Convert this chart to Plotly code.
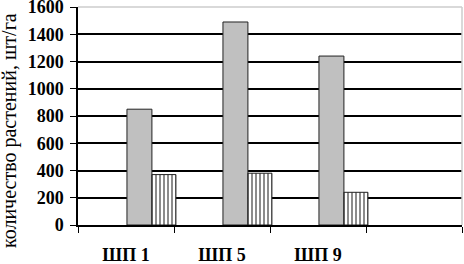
import plotly.graph_objects as go

categories = ["ШП 1", "ШП 5", "ШП 9"]
series_gray = [850, 1490, 1240]
series_hatch = [370, 380, 240]
y_ticks = [0, 200, 400, 600, 800, 1000, 1200, 1400, 1600]
y_title = "количество растений, шт/га"

x_idx = list(range(len(categories)))

fig = go.Figure()
fig.add_trace(go.Bar(
    x=x_idx, y=series_gray, offset=0.01, width=0.26,
    marker=dict(color="#c0c0c0", line=dict(color="#222222", width=1)),
    showlegend=False,
))
fig.add_trace(go.Bar(
    x=x_idx, y=series_hatch, offset=0.27, width=0.25,
    marker=dict(color="white", line=dict(color="#222222", width=1),
                pattern=dict(shape="|", size=4, solidity=0.45, fgcolor="black", bgcolor="white")),
    showlegend=False,
))

serif = "Liberation Serif, Times New Roman, serif"

fig.update_layout(
    width=464, height=264,
    margin=dict(l=78, r=2, t=7, b=39),
    paper_bgcolor="white", plot_bgcolor="white",
    barmode="overlay",
    xaxis=dict(
        range=[-0.5, 3.5], automargin=False,
        tickmode="array", tickvals=x_idx, ticktext=categories,
        ticks="", showgrid=False, zeroline=False,
        showline=True, linecolor="black", linewidth=1.5,
        tickfont=dict(family=serif, size=18, color="black", weight="bold"),
        ticklabelstandoff=13,
        minor=dict(tickmode="array", tickvals=[-0.5, 0.5, 1.5, 2.5, 3.5],
                   ticks="outside", ticklen=6, tickcolor="black", tickwidth=1, showgrid=False),
    ),
    yaxis=dict(
        range=[0, 1600], tickmode="array", tickvals=y_ticks, automargin=False,
        ticklabeloverflow="allow", ticklabelstandoff=3,
        showgrid=True, gridcolor="black", gridwidth=1.5,
        zeroline=False,
        showline=True, linecolor="black", linewidth=1.5,
        ticks="outside", ticklen=6, tickcolor="black",
        tickfont=dict(family=serif, size=18, color="black", weight="bold"),
    ),
)
fig.add_annotation(text=y_title, xref="paper", yref="paper",
                   x=-69 / 384, y=(225 - 131) / 218, xanchor="center", yanchor="middle",
                   textangle=-90, showarrow=False,
                   font=dict(family=serif, size=20, color="black"))
# light frame on top and right
fig.add_shape(type="line", xref="paper", yref="paper", x0=0, x1=1, y0=1, y1=1,
              line=dict(color="#cccccc", width=1.5))
fig.add_shape(type="line", xref="paper", yref="paper", x0=1, x1=1, y0=0, y1=1,
              line=dict(color="#cccccc", width=1.5))

fig.write_html("out.html", post_script="document.body.style.margin='0';",
               config={"displayModeBar": False})
